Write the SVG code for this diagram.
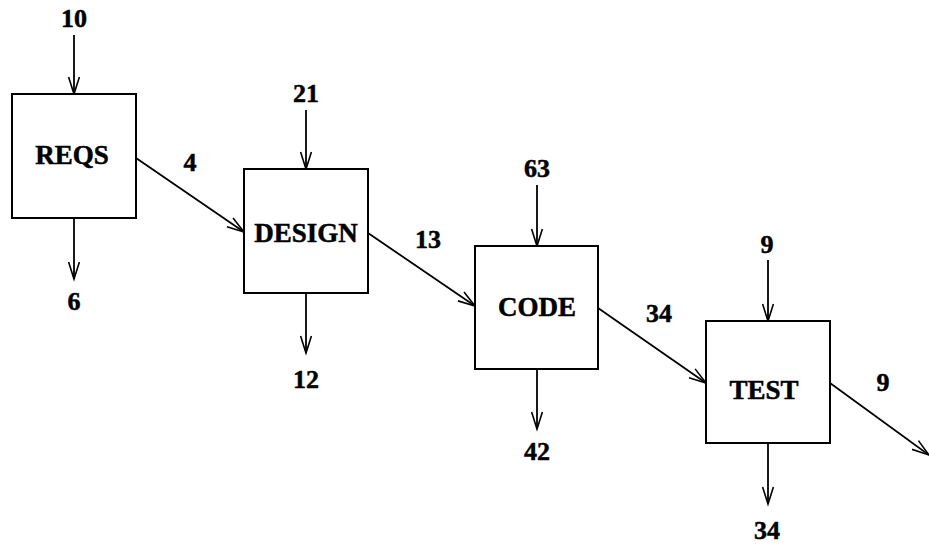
<svg xmlns="http://www.w3.org/2000/svg" width="929" height="546" viewBox="0 0 929 546">
<defs>
<marker id="ah" markerUnits="userSpaceOnUse" markerWidth="20" markerHeight="14" refX="17" refY="7" orient="auto" overflow="visible">
<path d="M0,1.6 L17,7 L0,12.4" fill="none" stroke="#000" stroke-width="1.6"/>
</marker>
</defs>
<style>
.box{fill:#fff;stroke:#000;stroke-width:2}
.lbl{font-family:"Liberation Serif","Times New Roman",serif;font-weight:bold;font-size:27px;text-anchor:middle;fill:#000;stroke:#000;stroke-width:0.5}
.num{font-family:"Liberation Serif","Times New Roman",serif;font-weight:bold;font-size:26px;text-anchor:middle;fill:#000;stroke:#000;stroke-width:0.5}
.c{stroke:#000;stroke-width:1.8;fill:none;marker-end:url(#ah)}
</style>
<rect width="929" height="546" fill="#fff"/>
<g id="connectors">
<line class="c" x1="74" y1="35" x2="74" y2="94"/>
<line class="c" x1="74" y1="218" x2="74" y2="279"/>
<line class="c" x1="136" y1="158" x2="244" y2="232"/>
<line class="c" x1="306" y1="110" x2="306" y2="169"/>
<line class="c" x1="306" y1="293" x2="306" y2="353"/>
<line class="c" x1="368" y1="233" x2="475" y2="306"/>
<line class="c" x1="537" y1="185" x2="537" y2="246"/>
<line class="c" x1="537" y1="370" x2="537" y2="429"/>
<line class="c" x1="598" y1="308" x2="706" y2="383"/>
<line class="c" x1="768" y1="260" x2="768" y2="321"/>
<line class="c" x1="768" y1="443" x2="768" y2="504"/>
<line class="c" x1="830" y1="383" x2="929" y2="455"/>
<g class="labels">
<text class="num" x="74" y="27">10</text>
<text class="num" x="74" y="310">6</text>
<text class="num" x="190" y="171">4</text>
<text class="num" x="306" y="102">21</text>
<text class="num" x="306" y="388">12</text>
<text class="num" x="428" y="248">13</text>
<text class="num" x="537" y="177">63</text>
<text class="num" x="537" y="460">42</text>
<text class="num" x="659" y="322">34</text>
<text class="num" x="767" y="253">9</text>
<text class="num" x="767" y="539">34</text>
<text class="num" x="883" y="391">9</text>
</g>
</g>
<g id="reqs"><rect class="box" x="12" y="94" width="124" height="124"/><text class="lbl" x="72" y="164">REQS</text></g>
<g id="design"><rect class="box" x="244" y="169" width="124" height="124"/><text class="lbl" x="306" y="242">DESIGN</text></g>
<g id="code"><rect class="box" x="475" y="246" width="123" height="123"/><text class="lbl" x="537" y="316">CODE</text></g>
<g id="test"><rect class="box" x="706" y="321" width="124" height="122"/><text class="lbl" x="764" y="399">TEST</text></g>
</svg>
